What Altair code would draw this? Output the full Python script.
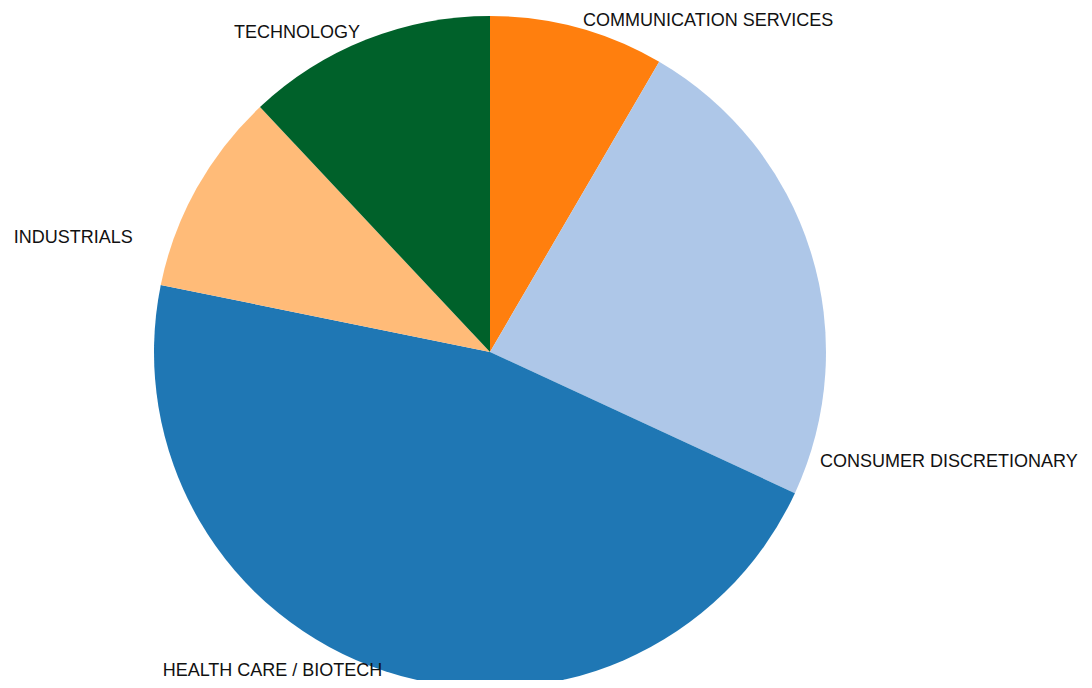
import altair as alt
import pandas as pd

# Data (percent of total, clockwise from 12 o'clock)
sectors = [
    "COMMUNICATION SERVICES",
    "CONSUMER DISCRETIONARY",
    "HEALTH CARE / BIOTECH",
    "INDUSTRIALS",
    "TECHNOLOGY",
]
weights = [8.4, 23.5, 46.3, 9.8, 12.0]
colors = ["#ff7f0e", "#aec7e8", "#1f77b4", "#ffbb78", "#00612a"]

# label styling: (align, dx, dy) relative to the mid-angle point of the slice
label_style = {
    "COMMUNICATION SERVICES": ("left", 3, 2),
    "CONSUMER DISCRETIONARY": ("left", 1, 214),
    "HEALTH CARE / BIOTECH": ("right", 0, -9),
    "INDUSTRIALS": ("right", -56, 54),
    "TECHNOLOGY": ("right", -3, 2),
}

df = pd.DataFrame({"sector": sectors, "weight": weights, "idx": list(range(len(sectors)))})
total = sum(weights)

base = (
    alt.Chart(df)
    .transform_window(end="sum(weight)", sort=[alt.SortField("idx")], frame=[None, 0])
    .transform_calculate(start="datum.end - datum.weight", mid="datum.end - datum.weight / 2")
)

theta_scale = alt.Scale(domain=[0, total])

arcs = base.mark_arc(outerRadius=336).encode(
    theta=alt.Theta("start:Q", scale=theta_scale),
    theta2="end:Q",
    color=alt.Color("sector:N", scale=alt.Scale(domain=sectors, range=colors), legend=None),
)

layers = [arcs]
for s in sectors:
    align, dx, dy = label_style[s]
    layers.append(
        base.transform_filter(alt.datum.sector == s)
        .mark_text(
            radius=345,
            align=align,
            baseline="middle",
            dx=dx,
            dy=dy,
            fontSize=18,
            font="Liberation Sans",
            color="#111111",
        )
        .encode(theta=alt.Theta("mid:Q", scale=theta_scale), text="sector:N")
    )

chart = (
    alt.layer(*layers)
    .properties(
        width=964,
        height=640,
        autosize=alt.AutoSizeParams(type="none"),
        padding={"left": 0, "top": 24, "right": 112, "bottom": 8},
    )
    .configure_view(stroke=None)
)

chart.save("out.html", embed_options={"renderer": "svg", "actions": False})
